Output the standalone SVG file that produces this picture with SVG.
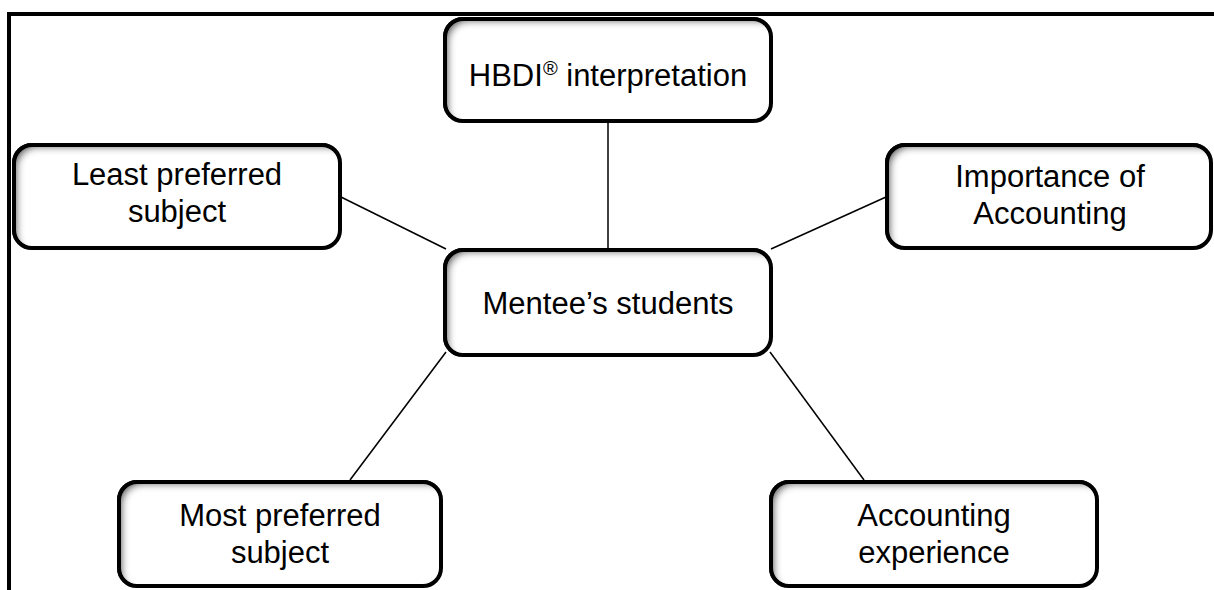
<svg xmlns="http://www.w3.org/2000/svg" width="1214" height="590" viewBox="0 0 1214 590">
  <style>
    .box { fill: #ffffff; stroke: #000000; stroke-width: 4; filter: url(#inset); }
    .label { font-family: "Liberation Sans", Arial, sans-serif; font-size: 31px; fill: #000000; text-anchor: middle; }
    .sup { font-size: 20px; }
    .link { stroke: #000000; stroke-width: 1.5; fill: none; }
    .frame { stroke: #000000; stroke-width: 4; fill: none; }
  </style>
  <defs>
    <!-- soft grey shading along the inner edges of each box -->
    <filter id="inset" x="-10%" y="-20%" width="120%" height="140%">
      <feFlood flood-color="#000000" flood-opacity="0.9" result="flood"/>
      <feComposite in="flood" in2="SourceAlpha" operator="out" result="outside"/>
      <feOffset in="outside" dx="6" dy="5" result="shifted"/>
      <feGaussianBlur in="shifted" stdDeviation="3.5" result="blurred"/>
      <feComposite in="blurred" in2="SourceAlpha" operator="in" result="shadow"/>
      <feMerge>
        <feMergeNode in="SourceGraphic"/>
        <feMergeNode in="shadow"/>
      </feMerge>
    </filter>
  </defs>

  <rect width="1214" height="590" fill="#ffffff"/>

  <!-- page frame: top and left edges -->
  <path class="frame" d="M9,590 V14 H1214"/>

  <g id="connectors">
    <line class="link" x1="608" y1="121" x2="608" y2="250"/>
    <line class="link" x1="341" y1="197" x2="446" y2="249"/>
    <line class="link" x1="886" y1="197" x2="771" y2="249"/>
    <line class="link" x1="446" y1="352" x2="350" y2="480"/>
    <line class="link" x1="770" y1="352" x2="864" y2="480"/>
  </g>

  <g id="node-hbdi">
    <rect class="box" x="445" y="19" width="326" height="102" rx="18"/>
    <text class="label" x="608" y="86">HBDI<tspan class="sup" dy="-11">®</tspan><tspan dy="11"> interpretation</tspan></text>
  </g>

  <g id="node-least">
    <rect class="box" x="14" y="145" width="326" height="103" rx="18"/>
    <text class="label" x="177" y="185">Least preferred</text>
    <text class="label" x="177" y="222">subject</text>
  </g>

  <g id="node-importance">
    <rect class="box" x="887" y="145" width="324" height="103" rx="18"/>
    <text class="label" x="1050" y="187">Importance of</text>
    <text class="label" x="1050" y="224">Accounting</text>
  </g>

  <g id="node-mentee">
    <rect class="box" x="445" y="250" width="326" height="105" rx="18"/>
    <text class="label" x="608" y="314">Mentee’s students</text>
  </g>

  <g id="node-most">
    <rect class="box" x="119" y="482" width="322" height="104" rx="18"/>
    <text class="label" x="280" y="526">Most preferred</text>
    <text class="label" x="280" y="563">subject</text>
  </g>

  <g id="node-experience">
    <rect class="box" x="771" y="482" width="326" height="104" rx="18"/>
    <text class="label" x="934" y="526">Accounting</text>
    <text class="label" x="934" y="563">experience</text>
  </g>
</svg>
